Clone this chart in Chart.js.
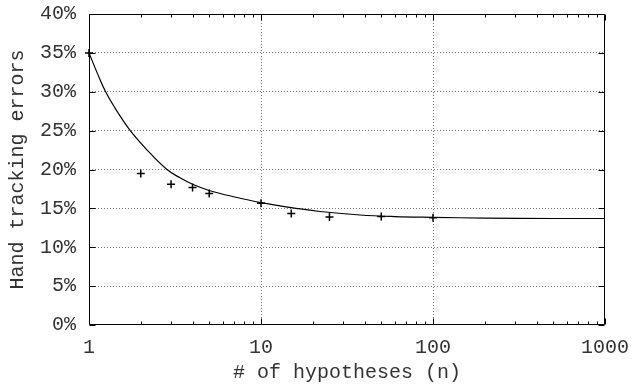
<!DOCTYPE html>
<html>
<head>
<meta charset="utf-8">
<script src="https://cdn.jsdelivr.net/npm/chart.js@4.4.0/dist/chart.umd.min.js"></script>
<style>
body { margin: 0; background: #fff; }
#wrap { width: 632px; height: 387px; }
</style>
</head>
<body>
<div id="wrap"><canvas id="graph" width="632" height="387"></canvas></div>
<script>
// fitted curve
const fitN   = [1, 1.122, 1.256, 1.474, 1.738, 2.2, 2.84, 3.4, 4, 5, 6.93, 10, 16.5, 22, 37.6, 60, 100, 200, 500, 1000];
const fitErr = [35.0, 32.3, 29.9, 27.3, 25.0, 22.4, 20.0, 18.9, 18.1, 17.3, 16.5, 15.75, 14.96, 14.6, 14.15, 13.95, 13.85, 13.75, 13.7, 13.7];

// measured points
const measN   = [1, 2, 3, 4, 5, 10, 15, 25, 50, 100];
const measErr = [35.0, 19.5, 18.1, 17.7, 16.9, 15.65, 14.35, 13.9, 13.95, 13.8];

const xTicks = [1, 10, 100, 1000];
const yTicks = [0, 5, 10, 15, 20, 25, 30, 35, 40];
const minorSteps = [2, 3, 4, 5, 6, 7, 8, 9];

const font = { family: "'Liberation Mono', 'Courier New', monospace", size: 20 };
const textColor = '#333';
const gridColor = '#777';

function pairs(xs, ys){
    let out = [];
    for(let i=0; i < xs.length; i++)
        out.push({x: xs[i], y: ys[i]});
    return out;
}

// gnuplot style frame with inward ticks
const frame = {
    id: 'frame',
    afterDraw(chart){
        const ctx = chart.ctx;
        const a = chart.chartArea;
        const xs = chart.scales.x, ys = chart.scales.y;
        const L = Math.round(a.left) + 0.5, R = Math.round(a.right) - 0.5;
        const T = Math.round(a.top) + 0.5, B = Math.round(a.bottom) - 0.5;
        ctx.save();
        ctx.strokeStyle = '#000';
        ctx.lineWidth = 1;
        ctx.beginPath();
        ctx.rect(L, T, R - L, B - T);
        for(let i=0; i < xTicks.length - 1; i++){
            for(const m of minorSteps){
                const px = Math.round(xs.getPixelForValue(xTicks[i] * m)) + 0.5;
                ctx.moveTo(px, B); ctx.lineTo(px, B - 3);
                ctx.moveTo(px, T); ctx.lineTo(px, T + 3);
            }
        }
        for(const v of xTicks){
            const px = Math.round(xs.getPixelForValue(v)) + 0.5;
            ctx.moveTo(px, B); ctx.lineTo(px, B - 6);
            ctx.moveTo(px, T); ctx.lineTo(px, T + 6);
        }
        for(const v of yTicks){
            const py = Math.round(ys.getPixelForValue(v)) + 0.5;
            ctx.moveTo(L, py); ctx.lineTo(L + 6, py);
            ctx.moveTo(R, py); ctx.lineTo(R - 6, py);
        }
        ctx.stroke();
        ctx.restore();
    }
};

const ctx = document.getElementById('graph');
new Chart(ctx, {
    data: {
        datasets: [
            {
                type: 'line',
                label: 'fit',
                data: pairs(fitN, fitErr),
                borderColor: '#000',
                borderWidth: 1.2,
                pointRadius: 0,
                tension: 0.4,
                fill: false
            },
            {
                type: 'scatter',
                label: 'measured',
                data: pairs(measN, measErr),
                pointStyle: 'cross',
                pointRadius: 4,
                borderColor: '#000',
                backgroundColor: '#000',
                borderWidth: 1.5,
                clip: false
            }
        ]
    },
    options: {
        responsive: false,
        animation: false,
        devicePixelRatio: 1,
        layout: { padding: { left: 0, top: 14, right: 27, bottom: 0 } },
        plugins: { legend: { display: false }, tooltip: { enabled: false } },
        scales: {
            x: {
                type: 'logarithmic',
                min: 1,
                max: 1000,
                afterBuildTicks: s => { s.ticks = xTicks.map(v => ({value: v})); },
                afterFit: s => { s.height = 62; s.paddingLeft = 0; s.paddingRight = 0; },
                ticks: { callback: v => String(v), font: font, color: textColor, padding: 11, maxRotation: 0, autoSkip: false },
                grid: {
                    color: c => (c.tick && (c.tick.value === 1 || c.tick.value === 1000)) ? 'rgba(0,0,0,0)' : gridColor,
                    drawTicks: false,
                    lineWidth: 1
                },
                border: { display: false, dash: [1, 2] },
                title: { display: true, text: '# of hypotheses (n)', font: font, color: textColor, padding: { top: 0, bottom: 2 } }
            },
            y: {
                type: 'linear',
                min: 0,
                max: 40,
                afterBuildTicks: s => { s.ticks = yTicks.map(v => ({value: v})); },
                afterFit: s => { s.width = 89; s.paddingTop = 0; s.paddingBottom = 0; },
                ticks: { callback: v => v + '%', font: font, color: textColor, padding: 13 },
                grid: {
                    color: c => (c.tick && (c.tick.value === 0 || c.tick.value === 40)) ? 'rgba(0,0,0,0)' : gridColor,
                    drawTicks: false,
                    lineWidth: 1
                },
                border: { display: false, dash: [1, 2] },
                title: { display: true, text: 'Hand tracking errors', font: font, color: textColor, padding: { top: 6, bottom: 0 } }
            }
        }
    },
    plugins: [frame]
});
</script>
</body>
</html>
